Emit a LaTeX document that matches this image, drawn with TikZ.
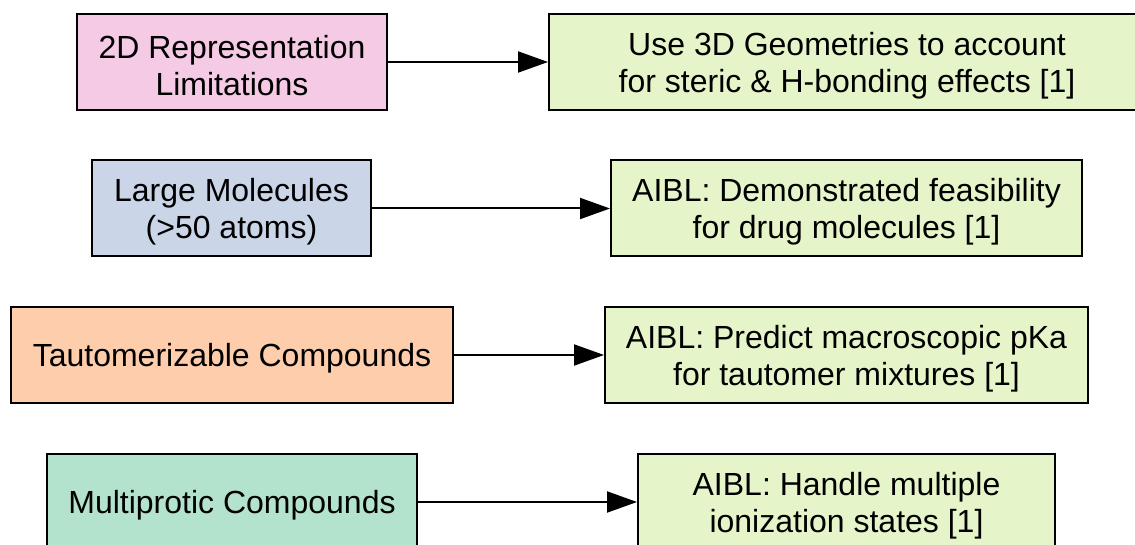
\documentclass[tikz,border=0pt]{standalone}
\usepackage{fontspec}
\setmainfont{Liberation Sans}
\usetikzlibrary{arrows.meta}
\definecolor{cpink}{HTML}{F4CAE4}
\definecolor{cblue}{HTML}{CBD5E8}
\definecolor{corange}{HTML}{FDCDAC}
\definecolor{cteal}{HTML}{B3E2CD}
\definecolor{clime}{HTML}{E6F5C9}
\tikzset{
  box/.style={draw=black, line width=2pt, rectangle, inner sep=0pt, minimum height=96pt},
  txt/.style={align=center, inner sep=0pt, font=\fontsize{32}{37}\selectfont},
  link/.style={line width=2pt, -{Triangle[length=30pt,width=21pt]}},
}
\begin{document}
\begin{tikzpicture}[x=1pt,y=-1pt]
\useasboundingbox (0,0) rectangle (1135,545);
\node[box, fill=cpink, minimum width=310pt] (a1) at (232,62) {};
\node[box, fill=clime, minimum width=596pt] (b1) at (847,62) {};
\node[box, fill=cblue, minimum width=279pt] (a2) at (231.5,208.5) {};
\node[box, fill=clime, minimum width=471pt] (b2) at (846.5,208.5) {};
\node[box, fill=corange, minimum width=442pt] (a3) at (232,355) {};
\node[box, fill=clime, minimum width=483pt] (b3) at (846.5,355) {};
\node[box, fill=cteal, minimum width=370pt] (a4) at (232,502) {};
\node[box, fill=clime, minimum width=417pt] (b4) at (846.5,502) {};
\node[txt] (ta1) at ([yshift=-3.5pt]a1.center) {2D Representation\\Limitations};
\node[txt] (tb1) at ([yshift=-3.5pt]b1.center) {Use 3D Geometries to account\\for steric \& H-bonding effects [1]};
\node[txt] (ta2) at ([yshift=-3.5pt]a2.center) {Large Molecules\\(>50 atoms)};
\node[txt] (tb2) at ([yshift=-3.5pt]b2.center) {AIBL: Demonstrated feasibility\\for drug molecules [1]};
\node[txt] (ta3) at ([yshift=-3.5pt]a3.center) {Tautomerizable Compounds};
\node[txt] (tb3) at ([yshift=-3.5pt]b3.center) {AIBL: Predict macroscopic pKa\\for tautomer mixtures [1]};
\node[txt] (ta4) at ([yshift=-3.5pt]a4.center) {Multiprotic Compounds};
\node[txt] (tb4) at ([yshift=-3.5pt]b4.center) {AIBL: Handle multiple\\ionization states [1]};
\draw[link] (a1) -- (b1);
\draw[link] (a2) -- (b2);
\draw[link] (a3) -- (b3);
\draw[link] (a4) -- (b4);
\end{tikzpicture}
\end{document}
